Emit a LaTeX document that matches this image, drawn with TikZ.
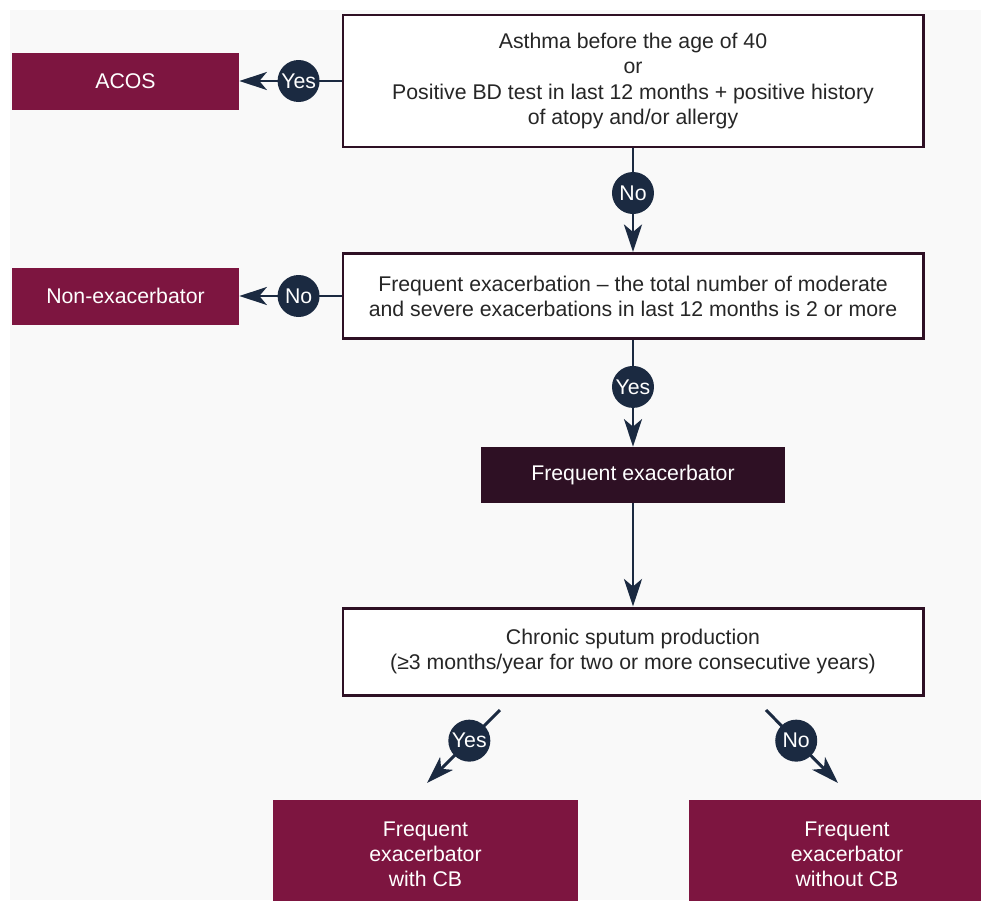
\documentclass[tikz,border=0pt]{standalone}
\usepackage{fontspec}
\setmainfont{Liberation Sans}
\usetikzlibrary{arrows.meta}
\definecolor{wine}{HTML}{7D1540}
\definecolor{plum}{HTML}{2E1024}
\definecolor{navy}{HTML}{1B2A41}
\definecolor{panel}{HTML}{F9F9F9}
\begin{document}
\begin{tikzpicture}[scale=0.2,
  every node/.style={font=\fontsize{12.1}{14.3}\selectfont, align=center, text=black!85},
  qbox/.style={draw=plum, line width=1.7pt, fill=white, minimum width=11.6cm, inner sep=0pt},
  outbox/.style={fill=wine, text=white, inner sep=0pt},
  tag/.style={circle, fill=navy, text=white, minimum size=0.84cm, inner sep=0pt},
  link/.style={draw=navy, line width=1.7pt, -{Stealth[length=0.55cm, width=0.36cm, inset=0.15cm]}}]
\useasboundingbox (0,0) rectangle (98.1,-90);
\clip (0,0) rectangle (98.1,-90);
\fill [panel] (1,-1) rectangle (98.1,-90);
\node [qbox, minimum height=2.64cm] (asthma) at (63.3,-8.1) {Asthma before the age of 40\\or\\Positive BD test in last 12 months + positive history\\of atopy and/or allergy};
\node [outbox, minimum width=4.54cm, minimum height=1.14cm] (acos) at (12.55,-8.1) {ACOS};
\node [qbox, minimum height=1.7cm] (freq) at (63.3,-29.6) {Frequent exacerbation -- the total number of moderate\\and severe exacerbations in last 12 months is 2 or more};
\node [outbox, minimum width=4.54cm, minimum height=1.14cm] (nonex) at (12.55,-29.6) {Non-exacerbator};
\node [outbox, fill=plum, minimum width=6.08cm, minimum height=1.12cm] (fexac) at (63.3,-47.5) {Frequent exacerbator};
\node [qbox, minimum height=1.74cm] (sputum) at (63.3,-65.15) {Chronic sputum production\\(≥3 months/year for two or more consecutive years)};
\node [outbox, minimum width=6.1cm, minimum height=2.16cm] (withcb) at (42.55,-85.4) {Frequent\\exacerbator\\with CB};
\node [outbox, minimum width=6.32cm, minimum height=2.16cm] (withoutcb) at (84.7,-85.4) {Frequent\\exacerbator\\without CB};
\coordinate (ys) at (50.0,-71.0);
\coordinate (ye) at (42.7,-78.3);
\coordinate (ns) at (76.6,-71.0);
\coordinate (ne) at (83.8,-78.3);
\draw [link] (asthma.west) -- node [tag, pos=0.42] (t1) {Yes} (acos.east);
\draw [link] (asthma.south) -- node [tag, pos=0.43] (t2) {No} (freq.north);
\draw [link] (freq.west) -- node [tag, pos=0.42] (t3) {No} (nonex.east);
\draw [link] (freq.south) -- node [tag, pos=0.44] (t4) {Yes} (fexac.north);
\draw [link] (fexac.south) -- (sputum.north);
\draw [link] (ys) -- node [tag, pos=0.42] (t5) {Yes} (ye);
\draw [link] (ns) -- node [tag, pos=0.42] (t6) {No} (ne);
\end{tikzpicture}
\end{document}
